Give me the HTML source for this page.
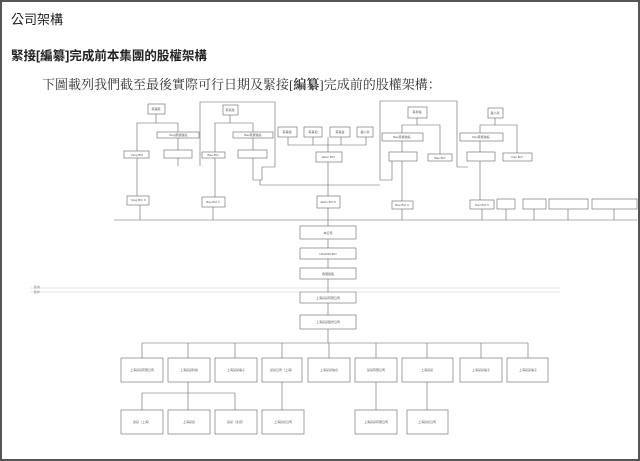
<!DOCTYPE html>
<html><head><meta charset="utf-8"><style>
html,body{margin:0;padding:0;background:#fff}
#p{position:relative;width:636px;height:457px;border:2px solid #555;overflow:hidden;font-family:"Liberation Sans","Noto Sans CJK TC",sans-serif}
.t{position:absolute;white-space:nowrap;color:#222}
svg{position:absolute;left:-2px;top:-2px}
svg text{font-family:"Liberation Sans","Noto Sans CJK TC",sans-serif;font-size:3px;fill:#555;stroke:none;text-anchor:middle}
</style></head><body><div id="p">
<div class="t" style="left:9px;top:7px;font-size:13px">公司架構</div>
<div class="t" style="left:9px;top:43px;font-size:12.5px;font-weight:bold">緊接[編纂]完成前本集團的股權架構</div>
<div class="t" style="left:40px;top:72px;font-size:13px;font-family:'Liberation Serif','Noto Serif CJK SC',serif;color:#333">下圖載列我們截至最後實際可行日期及緊接[<b>編纂</b>]完成前的股權架構：</div>
<svg width="640" height="461" viewBox="0 0 640 461" fill="none" stroke="#666" stroke-width="0.6">
<g fill="#fff">
<rect x="148" y="104" width="17" height="10"/><rect x="157" y="132" width="42" height="6"/>
<rect x="124" y="151" width="25" height="7"/><rect x="164" y="150" width="28" height="8"/>
<rect x="127" y="196" width="22" height="9"/>
<rect x="223" y="105" width="15" height="10"/><rect x="233" y="132" width="40" height="6"/>
<rect x="202" y="152" width="23" height="6"/><rect x="238" y="150" width="29" height="8"/>
<rect x="202" y="197" width="23" height="10"/>
<rect x="278" y="127" width="19" height="10"/><rect x="304" y="127" width="18" height="10"/>
<rect x="330" y="127" width="20" height="10"/><rect x="357" y="127" width="16" height="10"/>
<rect x="316" y="152" width="26" height="10"/><rect x="317" y="196" width="23" height="12"/>
<rect x="408" y="107" width="19" height="11"/><rect x="382" y="133" width="41" height="8"/>
<rect x="389" y="152" width="28" height="9"/><rect x="428" y="154" width="24" height="7"/>
<rect x="392" y="201" width="21" height="8"/>
<rect x="488" y="108" width="15" height="10"/><rect x="460" y="133" width="43" height="8"/>
<rect x="467" y="152" width="28" height="9"/><rect x="503" y="153" width="29" height="8"/>
<rect x="470" y="200" width="24" height="9"/><rect x="497" y="199" width="18" height="10"/>
<rect x="523" y="199" width="23" height="10"/><rect x="549" y="199" width="39" height="10"/>
<rect x="592" y="199" width="45" height="10"/>
<rect x="300" y="226" width="56" height="13"/><rect x="300" y="248" width="56" height="11"/>
<rect x="300" y="268" width="56" height="11"/><rect x="300" y="292" width="56" height="11"/>
<rect x="300" y="315" width="56" height="14"/>
<rect x="121" y="358" width="42" height="24"/><rect x="168" y="358" width="42" height="24"/>
<rect x="215" y="358" width="42" height="24"/><rect x="262" y="358" width="40" height="24"/>
<rect x="308" y="358" width="42" height="24"/><rect x="355" y="358" width="42" height="24"/>
<rect x="402" y="358" width="51" height="24"/><rect x="460" y="358" width="42" height="24"/>
<rect x="507" y="358" width="41" height="24"/>
<rect x="121" y="410" width="42" height="24"/><rect x="168" y="410" width="42" height="24"/>
<rect x="215" y="410" width="42" height="24"/><rect x="262" y="410" width="42" height="24"/>
<rect x="355" y="410" width="42" height="24"/><rect x="407" y="410" width="41" height="24"/>
</g>
<path d="M156 114V123H137V151M156 123H178V132M178 138V150M137 158V196M178 158V166M140 205V220
M230 115V123H215V152M230 123H253V132M253 138V150M215 158V197M253 158V180H262V167H275V102H200V166
M328 137V145M288 137V145H366V137M313 137V145M341 137V145M328 145V152M328 162V196M328 208V226
M417 118V125H402V133M417 125H440V154M402 141V152M402 161V201M392 161V180H380V101H457V167H468
M495 118V125H480V133M495 125H517V153M480 141V152M480 161V200
M260 180V185H380M114 220H637M140 205V220M213 207V220M402 209V220M482 209V220M506 209V220M534 209V220M568 209V220M614 209V220
M328 239V248M328 259V268M328 279V292M328 303V315M328 329V343
M142 343H528M142 343V358M188 343V358M235 343V358M282 343V358M329 343V358M376 343V358M427 343V358M481 343V358M528 343V358
M188 382V393H142V410M188 393V410M188 393H235V410M282 382V410M376 382V410M427 382V410"/>
<path d="M30 288H560M30 292H560" stroke="#bbb" stroke-width="0.4"/>
<g>
<text x="156" y="110">蔡其能</text><text x="230" y="111">蔡永政</text><text x="417" y="113">蔡永強</text><text x="495" y="114">嚴小兵</text>
<text x="287" y="133">蔡其銘</text><text x="313" y="133">蔡其和</text><text x="340" y="133">蔡其金</text><text x="365" y="133">嚴小兵</text>
<text x="328" y="158">Jiaxin BVI</text><text x="328" y="203">Jiaxin BVI II</text>
<text x="137" y="156">Yang BVI</text><text x="138" y="201">Yang BVI II</text><text x="213" y="156">Bao BVI</text><text x="213" y="203">Bao BVI II</text>
<text x="402" y="206">Bao BVI II</text><text x="440" y="159">Bao BVI</text><text x="482" y="206">Dan BVI II</text><text x="517" y="158">Dan BVI</text>
<text x="178" y="136">Yang家族信託</text><text x="253" y="136">Bao家族信託</text><text x="402" y="138">Bao家族信託</text><text x="481" y="138">Dan家族信託</text>
<text x="328" y="234">本公司</text><text x="328" y="255">HKADDI BVI</text><text x="328" y="275">香港控股</text><text x="328" y="299">上海某某有限公司</text><text x="328" y="323">上海某某股份公司</text>
<text x="142" y="371">上海某某有限公司</text><text x="189" y="371">上海某某科技</text><text x="236" y="371">上海某某電子</text><text x="282" y="371">某某公司（上海）</text><text x="329" y="371">上海某某信息</text><text x="376" y="371">某某有限公司</text><text x="427" y="371">上海某某</text><text x="481" y="371">上海某某電子</text><text x="528" y="371">上海某某電子</text>
<text x="142" y="423">某某（上海）</text><text x="189" y="423">上海某某</text><text x="236" y="423">某某（北京）</text><text x="283" y="423">上海某某公司</text><text x="376" y="423">上海某某有限公司</text><text x="427" y="423">上海某某公司</text>
</g>
</svg>
<div class="t" style="left:32px;top:283px;font-size:3px;color:#777">集內</div>
<div class="t" style="left:32px;top:288px;font-size:3px;color:#777">集外</div>
</div></body></html>
